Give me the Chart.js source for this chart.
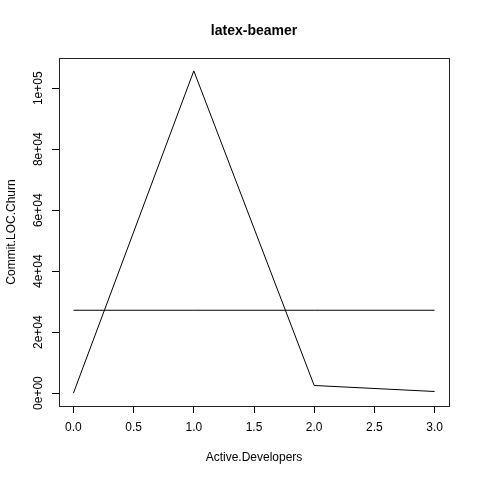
<!DOCTYPE html>
<html>
<head>
<meta charset="utf-8">
<script src="https://cdn.jsdelivr.net/npm/chart.js@4"></script>
<style>
  html, body { margin: 0; padding: 0; background: #fff; }
  #wrap { width: 480px; height: 480px; }
</style>
</head>
<body>
<div id="wrap"><canvas id="lineChart" width="480" height="480"></canvas></div>
<script>
// values
const developers = [0, 1, 2, 3];
const churn = [0, 105700, 2500, 530];
const churnMean = [27180, 27180, 27180, 27180];

const xTicks = [0, 0.5, 1, 1.5, 2, 2.5, 3];
const xTickLabels = ['0.0', '0.5', '1.0', '1.5', '2.0', '2.5', '3.0'];
const yTicks = [0, 20000, 40000, 60000, 80000, 100000];
const yTickLabels = ['0e+00', '2e+04', '4e+04', '6e+04', '8e+04', '1e+05'];

const FONT = '"Liberation Sans", Arial, Helvetica, sans-serif';

// R-style box, title, axis titles and rotated y labels
const rDecor = {
    id: 'rDecor',
    afterDraw(chart) {
        const ctx = chart.ctx;
        const a = chart.chartArea;
        const yScale = chart.scales.y;
        ctx.save();
        ctx.strokeStyle = '#222';
        ctx.lineWidth = 1;
        ctx.strokeRect(a.left + 0.5, a.top + 0.5, a.right - a.left, a.bottom - a.top);

        ctx.fillStyle = '#000';
        const cx = (a.left + a.right) / 2;
        const cy = (a.top + a.bottom) / 2;

        ctx.textAlign = 'center';
        ctx.textBaseline = 'middle';
        ctx.font = 'bold 14px ' + FONT;
        ctx.fillText('latex-beamer', cx, 31);

        ctx.font = '12px ' + FONT;
        ctx.fillText('Active.Developers', cx, 458);

        ctx.save();
        ctx.translate(12, cy);
        ctx.rotate(-Math.PI / 2);
        ctx.fillText('Commit.LOC.Churn', 0, 0);
        ctx.restore();

        yTicks.forEach((v, i) => {
            const py = yScale.getPixelForValue(v);
            ctx.save();
            ctx.translate(39, py);
            ctx.rotate(-Math.PI / 2);
            ctx.fillText(yTickLabels[i], 0, 0);
            ctx.restore();
        });
        ctx.restore();
    }
};

const ctx = document.getElementById('lineChart').getContext('2d');
const myChart = new Chart(ctx, {
    type: 'line',
    data: {
        datasets: [{
            label: 'Commit.LOC.Churn',
            data: developers.map((d, i) => ({ x: d, y: churn[i] })),
            borderColor: '#000',
            borderWidth: 1,
            pointRadius: 0,
            tension: 0,
            fill: false
        }, {
            label: 'mean',
            data: developers.map((d, i) => ({ x: d, y: churnMean[i] })),
            borderColor: '#000',
            borderWidth: 1,
            pointRadius: 0,
            tension: 0,
            fill: false
        }]
    },
    options: {
        responsive: false,
        animation: false,
        devicePixelRatio: 1,
        layout: {
            padding: { left: 0, top: 58, right: 31, bottom: 0 }
        },
        plugins: {
            legend: { display: false },
            tooltip: { enabled: false },
            title: { display: false }
        },
        scales: {
            x: {
                type: 'linear',
                min: -0.12,
                max: 3.12,
                afterBuildTicks: scale => {
                    scale.ticks = xTicks.map(v => ({ value: v }));
                },
                afterFit: scale => { scale.height = 74; },
                grid: {
                    drawOnChartArea: false,
                    tickLength: 7,
                    tickColor: '#000',
                    tickWidth: 1
                },
                border: { display: false },
                ticks: {
                    color: '#000',
                    font: { family: FONT, size: 12 },
                    padding: 7,
                    maxRotation: 0,
                    autoSkip: false,
                    callback: (v, i) => xTickLabels[i]
                }
            },
            y: {
                type: 'linear',
                min: -4228,
                max: 109928,
                afterBuildTicks: scale => {
                    scale.ticks = yTicks.map(v => ({ value: v }));
                },
                afterFit: scale => { scale.width = 59; },
                grid: {
                    drawOnChartArea: false,
                    tickLength: 7,
                    tickColor: '#000',
                    tickWidth: 1
                },
                border: { display: false },
                ticks: {
                    display: false
                }
            }
        }
    },
    plugins: [rDecor]
});
</script>
</body>
</html>
